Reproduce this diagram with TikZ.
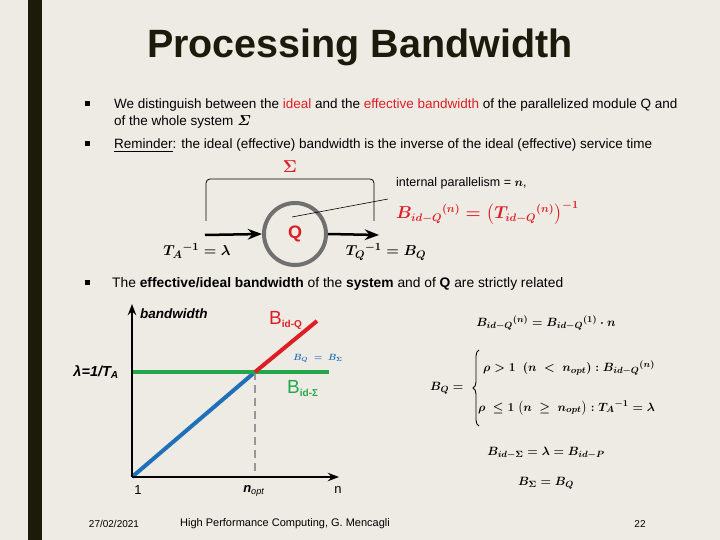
\documentclass[tikz,border=0pt]{standalone}
\usepackage{amsmath}
\usepackage{fontspec}
\setmainfont{Liberation Sans}
\usetikzlibrary{arrows.meta, decorations.pathreplacing}

\newcommand{\bandlabel}[1]{{\fontsize{19}{19}\selectfont B}{\fontsize{10}{10}\selectfont\bfseries\raisebox{-3pt}{#1}}}

\begin{document}
\begin{tikzpicture}[x=1pt, y=-1pt, >=Stealth]
  \definecolor{slidebg}{RGB}{238,235,228}
  \definecolor{slidebar}{RGB}{27,27,12}
  \definecolor{hired}{RGB}{222,30,36}
  \definecolor{lineblue}{RGB}{31,112,184}
  \definecolor{linegreen}{RGB}{34,168,74}
  \definecolor{dashgray}{RGB}{150,150,150}
  \definecolor{ringgray}{RGB}{112,112,112}

  \tikzset{
    body/.style={anchor=base west, inner sep=0pt, font=\fontsize{13.5}{16}\selectfont},
    bulletmark/.style={fill=black, minimum size=5pt, inner sep=0pt},
    formula/.style={inner sep=0pt, font=\fontsize{13}{15}\selectfont\boldmath},
    axislabel/.style={inner sep=0pt, font=\fontsize{13}{15}\selectfont},
    footer/.style={inner sep=0pt, font=\fontsize{10}{11}\selectfont},
  }

  \fill[slidebg] (0,0) rectangle (720,540);
  \fill[slidebar] (28,0) rectangle (42,540);
  \useasboundingbox (0,0) rectangle (720,540);

  \node[font=\fontsize{39.5}{44}\selectfont\bfseries, text=slidebar] (title) at (360,47) {Processing Bandwidth};

  % bullets
  \node[bulletmark] (b1) at (87.5,104) {};
  \node[bulletmark] (b2) at (87.5,144) {};
  \node[bulletmark] (b3) at (87.5,282) {};

  \node[body] (t1) at (114,109) {We distinguish between the \textcolor{hired}{ideal} and the \textcolor{hired}{effective bandwidth} of the parallelized module Q and};
  \node[body] (t2) at (114,126) {of the whole system $\boldsymbol{\varSigma}$};
  \node[body] (t3) at (114,149) {\underline{Reminder}: the ideal (effective) bandwidth is the inverse of the ideal (effective) service time};

  % the module Q inside the system
  \node[text=hired, font=\fontsize{16}{16}\selectfont] (sig) at (290,167) {$\boldsymbol{\Sigma}$};
  \draw[line width=0.8pt, rounded corners=4pt] (206,221) -- (206,179) -- (374,179) -- (374,221);
  \node[circle, draw=ringgray, line width=4pt, minimum size=62pt, inner sep=0pt, text=hired,
        font=\bfseries\fontsize{18}{18}\selectfont] (q) at (295,234) {Q};
  \coordinate (inA) at (205,235);
  \coordinate (outQ) at (379,235);
  \draw[->, line width=2.5pt] (inA) -- (q.west);
  \draw[->, line width=2.5pt] (q.east) -- (outQ);

  \coordinate (qin) at (292,217);
  \coordinate (partip) at (388,199);
  \draw[line width=0.6pt] (qin) -- (partip);

  \node[formula, font=\fontsize{15.5}{18}\selectfont\boldmath] (ta) at (197,251) {$T_A{}^{-1} = \lambda$};
  \node[formula, font=\fontsize{15.5}{18}\selectfont\boldmath] (tq) at (386,252) {$T_Q{}^{-1} = B_Q$};

  \node[anchor=west, inner sep=0pt, font=\fontsize{12.5}{15}\selectfont] (par) at (396,183) {internal parallelism = $\boldsymbol{n}$,};
  \node[formula, anchor=west, text=hired, font=\fontsize{16}{18}\selectfont\boldmath] (bidq) at (396,213)
    {$B_{id-Q}{}^{(n)} = \bigl(T_{id-Q}{}^{(n)}\bigr)^{-1}$};

  \node[body, font=\fontsize{13.8}{16}\selectfont] (t4) at (112,287) {The \textbf{effective/ideal bandwidth} of the \textbf{system} and of \textbf{Q} are strictly related};

  % bandwidth plot
  \coordinate (orig) at (132,477);
  \coordinate (ytop) at (132,304);
  \coordinate (xend) at (339,477);
  \coordinate (knee) at (255,372);
  \coordinate (lamleft) at (132,372);
  \coordinate (greenend) at (329,372);
  \coordinate (redend) at (317,321);
  \coordinate (noptfoot) at (255,477);

  \draw[lineblue, line width=4pt] (orig) -- (knee);
  \draw[dashgray, line width=2.5pt, dash pattern=on 8pt off 5pt] (knee) -- (noptfoot);
  \draw[linegreen, line width=4pt] (lamleft) -- (greenend);
  \draw[hired, line width=4pt] (knee) -- (redend);
  \draw[->, line width=1.8pt] (orig) -- (ytop);
  \draw[->, line width=1.8pt] (orig) -- (xend);

  \node[anchor=west, inner sep=0pt, font=\bfseries\itshape\fontsize{13.5}{15}\selectfont] (bwlab) at (140,314) {bandwidth};
  \node[anchor=west, inner sep=0pt, text=hired] (bqlab) at (269,320) {\bandlabel{id-Q}};
  \node[anchor=west, inner sep=0pt, text=linegreen] (bslab) at (287,389) {\bandlabel{id-Σ}};
  \node[inner sep=0pt, text=lineblue, font=\fontsize{9}{10}\selectfont] (eqlab) at (318,358) {$\boldsymbol{B_Q\;=\;B_\Sigma}$};
  \node[anchor=east, inner sep=0pt, font=\bfseries\itshape\fontsize{14.5}{16}\selectfont] (lamlab) at (119,372) {λ=1/T\textsubscript{A}};
  \node[axislabel] (one) at (138,490) {1};
  \node[axislabel] (nopt) at (254,491) {\textbf{\textit{n}}\textsubscript{\textit{opt}}};
  \node[axislabel] (nlab) at (338,490) {n};

  % relations on the right
  \node[formula] (f1) at (546,323) {$B_{id-Q}{}^{(n)} = B_{id-Q}{}^{(1)}\cdot n$};
  \node[formula, anchor=west] (bq) at (430,388) {$B_Q =$};
  \draw[line width=0.9pt, decorate, decoration={brace, amplitude=6pt}] (479,426) -- (479,350);
  \node[formula, anchor=west] (case1) at (483,368) {$\rho > 1\ \ (n\ <\ n_{opt}) : B_{id-Q}{}^{(n)}$};
  \node[formula, anchor=west] (case2) at (478,408) {$\rho\ \le 1\ \bigl(n\ \ge\ n_{opt}\bigr) : T_A{}^{-1} = \lambda$};
  \node[formula] (f3) at (546,453) {$B_{id-\Sigma} = \lambda = B_{id-P}$};
  \node[formula] (f4) at (546,483) {$B_\Sigma = B_Q$};

  \node[footer] (date) at (114,524) {27/02/2021};
  \node[footer, font=\fontsize{11}{12}\selectfont] (course) at (285,524) {High Performance Computing, G. Mencagli};
  \node[footer] (page) at (640,524) {22};
\end{tikzpicture}
\end{document}
